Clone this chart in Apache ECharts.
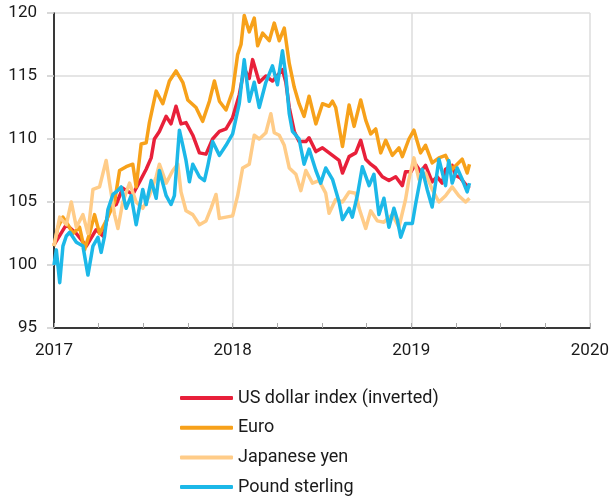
<!DOCTYPE html>
<html>
<head>
<meta charset="utf-8">
<script src="https://cdn.jsdelivr.net/npm/echarts@6/dist/echarts.min.js"></script>
<style>
html,body{margin:0;padding:0;background:#fff;}
#chart{width:612px;height:501px;}
</style>
</head>
<body>
<div id="chart"></div>
<script>
// Dates as decimal years
const usdDates = [2017.000,2017.069,2017.125,2017.181,2017.236,2017.274,2017.311,2017.348,2017.385,2017.441,2017.479,2017.516,2017.544,2017.562,2017.590,2017.628,2017.655,2017.683,2017.711,2017.739,2017.777,2017.814,2017.851,2017.888,2017.926,2017.963,2018.000,2018.037,2018.065,2018.093,2018.112,2018.149,2018.186,2018.223,2018.279,2018.298,2018.317,2018.345,2018.372,2018.410,2018.428,2018.466,2018.503,2018.559,2018.596,2018.615,2018.652,2018.689,2018.717,2018.745,2018.773,2018.801,2018.838,2018.875,2018.913,2018.950,2018.968,2018.998,2019.024,2019.052,2019.080,2019.117,2019.145,2019.173,2019.192,2019.229,2019.248,2019.276,2019.304,2019.326];
const usdValues = [101.6,103.2,102.5,101.5,102.8,102.3,104.5,104.8,106.1,105.6,106.6,107.6,108.5,110.0,110.6,111.8,111.2,112.6,111.2,111.3,110.3,108.9,108.8,110.0,110.6,110.8,111.7,113.5,115.6,114.8,116.3,114.5,115.0,114.6,115.5,114.5,112.5,110.6,109.8,109.8,110.1,109.0,109.3,108.7,108.3,107.3,108.6,108.9,109.9,108.4,108.0,107.7,107.0,106.7,107.0,106.3,107.4,107.4,108.0,107.4,107.9,106.6,107.0,106.5,107.6,107.9,107.1,106.9,106.4,106.1];

const eurDates = [2017.000,2017.022,2017.050,2017.078,2017.106,2017.143,2017.171,2017.199,2017.227,2017.255,2017.292,2017.339,2017.367,2017.404,2017.441,2017.460,2017.488,2017.516,2017.534,2017.572,2017.609,2017.646,2017.683,2017.721,2017.749,2017.795,2017.832,2017.870,2017.898,2017.926,2017.963,2018.000,2018.028,2018.047,2018.065,2018.093,2018.121,2018.140,2018.168,2018.205,2018.233,2018.261,2018.289,2018.317,2018.345,2018.372,2018.400,2018.428,2018.466,2018.503,2018.540,2018.559,2018.577,2018.615,2018.652,2018.680,2018.717,2018.745,2018.773,2018.801,2018.829,2018.857,2018.894,2018.931,2018.950,2018.987,2019.015,2019.052,2019.080,2019.117,2019.155,2019.192,2019.229,2019.285,2019.313,2019.326];
const eurValues = [101.5,103.0,103.8,103.2,102.5,103.0,101.2,102.5,104.0,102.5,103.5,105.0,107.5,107.8,108.0,106.2,109.6,109.7,111.3,113.8,112.8,114.6,115.4,114.5,113.1,112.5,111.4,113.0,114.6,113.0,112.3,113.8,116.7,117.5,119.8,118.5,119.6,117.4,118.4,117.8,119.2,117.8,118.8,116.0,114.1,112.8,111.8,113.4,111.2,112.8,112.6,113.0,112.5,109.4,112.7,111.0,113.1,111.5,110.4,110.8,108.9,109.9,108.7,109.3,108.6,110.0,110.7,108.9,109.5,108.1,108.5,108.7,107.6,108.4,107.3,108.0];

const jpyDates = [2017.000,2017.032,2017.069,2017.097,2017.125,2017.162,2017.190,2017.218,2017.255,2017.292,2017.311,2017.339,2017.358,2017.385,2017.423,2017.460,2017.497,2017.534,2017.572,2017.590,2017.628,2017.665,2017.693,2017.711,2017.739,2017.777,2017.814,2017.851,2017.879,2017.907,2017.926,2017.963,2018.000,2018.028,2018.056,2018.093,2018.121,2018.149,2018.186,2018.214,2018.233,2018.261,2018.289,2018.317,2018.354,2018.382,2018.410,2018.447,2018.484,2018.521,2018.540,2018.577,2018.615,2018.652,2018.689,2018.708,2018.745,2018.773,2018.810,2018.847,2018.894,2018.931,2018.968,2018.987,2019.015,2019.043,2019.080,2019.117,2019.155,2019.192,2019.229,2019.266,2019.304,2019.326];
const jpyValues = [101.5,103.8,103.2,105.0,103.0,104.0,102.5,106.0,106.2,108.3,106.5,104.0,102.9,105.0,106.5,105.0,104.5,105.5,107.0,108.0,106.5,107.5,108.0,105.8,104.3,104.0,103.2,103.5,104.5,105.6,103.7,103.8,103.9,105.5,107.7,108.0,110.3,110.0,110.5,112.0,110.5,110.3,109.5,107.7,107.2,105.9,107.5,106.5,106.7,105.7,104.1,105.2,105.0,105.8,105.7,104.5,102.9,104.3,103.5,103.4,104.0,103.0,105.2,106.8,108.5,106.8,107.3,106.0,105.0,105.5,106.2,105.5,105.0,105.3];

const gbpDates = [2017.000,2017.013,2017.032,2017.050,2017.069,2017.088,2017.125,2017.162,2017.190,2017.218,2017.246,2017.264,2017.283,2017.302,2017.330,2017.348,2017.376,2017.404,2017.432,2017.460,2017.497,2017.516,2017.544,2017.572,2017.590,2017.628,2017.655,2017.674,2017.702,2017.721,2017.739,2017.758,2017.777,2017.814,2017.842,2017.860,2017.888,2017.926,2017.963,2018.000,2018.037,2018.065,2018.093,2018.121,2018.149,2018.186,2018.223,2018.251,2018.279,2018.298,2018.317,2018.335,2018.372,2018.400,2018.428,2018.466,2018.493,2018.521,2018.559,2018.596,2018.615,2018.652,2018.670,2018.698,2018.726,2018.764,2018.791,2018.819,2018.847,2018.875,2018.903,2018.922,2018.941,2018.968,2019.006,2019.024,2019.061,2019.089,2019.117,2019.155,2019.192,2019.210,2019.229,2019.257,2019.285,2019.313,2019.326];
const gbpValues = [100.0,101.2,98.6,101.5,102.3,102.6,101.8,101.5,99.2,101.5,102.2,101.0,102.3,104.4,105.6,105.8,106.2,104.5,105.5,103.2,106.0,104.8,106.7,105.3,107.5,105.5,104.8,105.5,110.7,109.5,108.3,106.6,108.0,107.0,106.7,107.8,109.8,108.7,109.5,110.4,112.8,116.3,113.0,114.5,112.5,114.5,115.8,114.3,117.0,115.0,112.0,110.6,110.0,108.0,109.2,107.5,106.5,107.7,106.8,105.0,103.6,104.5,103.8,105.5,107.8,106.3,107.2,104.0,105.3,103.0,104.5,103.6,102.2,103.3,103.3,104.8,107.6,106.0,104.6,108.4,106.3,108.3,106.5,107.7,106.8,105.8,106.5];

const seriesNames = ['US dollar index (inverted)', 'Euro', 'Japanese yen', 'Pound sterling'];
const seriesColors = ['#e8203a', '#f7a11a', '#ffcc88', '#1cb8e8'];
const xTicks = [2017, 2018, 2019, 2020];
const yTicks = [95, 100, 105, 110, 115, 120];

const FONT = "'Roboto', sans-serif";
const pair = (d, v) => d.map((x, i) => [x, v[i]]);
const allData = [pair(usdDates, usdValues), pair(eurDates, eurValues), pair(jpyDates, jpyValues), pair(gbpDates, gbpValues)];

const chart = echarts.init(document.getElementById('chart'), null, {renderer: 'canvas'});
chart.setOption({
  animation: false,
  grid: {left: 54, top: 13, width: 537, height: 315, containLabel: false},
  legend: {
    orient: 'vertical', left: 180, top: 388, padding: 0, height: 113,
    itemWidth: 53, itemHeight: 4, itemGap: 9.7, icon: 'roundRect',
    textStyle: {fontFamily: FONT, fontSize: 18, color: '#1a1a1a', lineHeight: 20},
    data: seriesNames
  },
  xAxis: {
    type: 'value', min: xTicks[0], max: xTicks[xTicks.length - 1], interval: 1,
    axisLine: {lineStyle: {color: '#000', width: 1.5}},
    axisTick: {show: true, inside: true, length: 5, lineStyle: {color: '#aaa'}},
    minorTick: {show: true, splitNumber: 4, length: 5, lineStyle: {color: '#aaa'}},
    splitLine: {show: true, lineStyle: {color: '#dcdcdc', width: 1.5}},
    axisLabel: {fontFamily: FONT, fontSize: 17, color: '#1a1a1a', margin: 14, formatter: v => String(v)}
  },
  yAxis: {
    type: 'value', min: yTicks[0], max: yTicks[yTicks.length - 1], interval: 5,
    axisLine: {show: true, lineStyle: {color: '#000', width: 1.5}},
    axisTick: {show: true, length: 7, lineStyle: {color: '#ccc', width: 1.5}},
    splitLine: {show: true, lineStyle: {color: '#dcdcdc', width: 1.5}},
    axisLabel: {fontFamily: FONT, fontSize: 17, color: '#1a1a1a', margin: 17}
  },
  series: seriesNames.map((n, i) => ({
    name: n, type: 'line', data: allData[i], showSymbol: false, symbol: 'none',
    color: seriesColors[i],
    lineStyle: {color: seriesColors[i], width: 3.5, join: 'round'},
    z: 2 + i
  }))
});
</script>
</body>
</html>
